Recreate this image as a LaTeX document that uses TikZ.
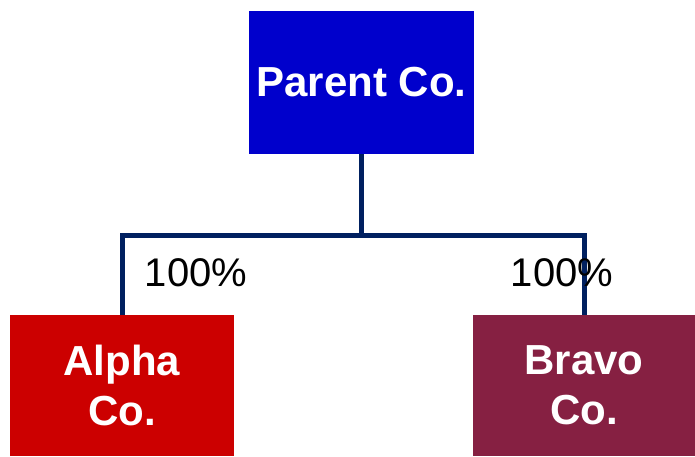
\documentclass[tikz,border=0pt]{standalone}
\usepackage{fontspec}
\setmainfont{Liberation Sans}
\usetikzlibrary{calc}

\definecolor{pblue}{RGB}{0,0,204}
\definecolor{ared}{RGB}{204,0,0}
\definecolor{bmaroon}{RGB}{134,32,66}
\definecolor{lnavy}{RGB}{0,32,96}

\begin{document}
\begin{tikzpicture}[x=1pt,y=-1pt,company/.style={
      draw=none,
      text=white,
      inner sep=0pt,
      align=center,
      font=\fontsize{42}{50}\selectfont\bfseries
    }]

\useasboundingbox (0,0) rectangle (695,456);

\node[company,fill=pblue, minimum width=225pt, minimum height=143pt] (pa) at (361.5,82.5) {Parent Co.};
\node[company,fill=ared, minimum width=224pt, minimum height=141pt] (al) at (122,385.5) {Alpha\\Co.};
\node[company,fill=bmaroon, minimum width=222pt, minimum height=141pt] (br) at (584,385.5) {Bravo\\Co.};

\draw[line width=5pt,lnavy] (pa.south) -- ++(0,81) coordinate (jn);
\draw[line width=5pt,lnavy] (al.north) |- (jn) -| (br.north);

\node[font=\fontsize{40}{48}\selectfont, inner sep=0pt] (lal) at (196,272.5) {100\%};
\node[font=\fontsize{40}{48}\selectfont, inner sep=0pt] (lbr) at (562,272.5) {100\%};

\end{tikzpicture}
\end{document}
